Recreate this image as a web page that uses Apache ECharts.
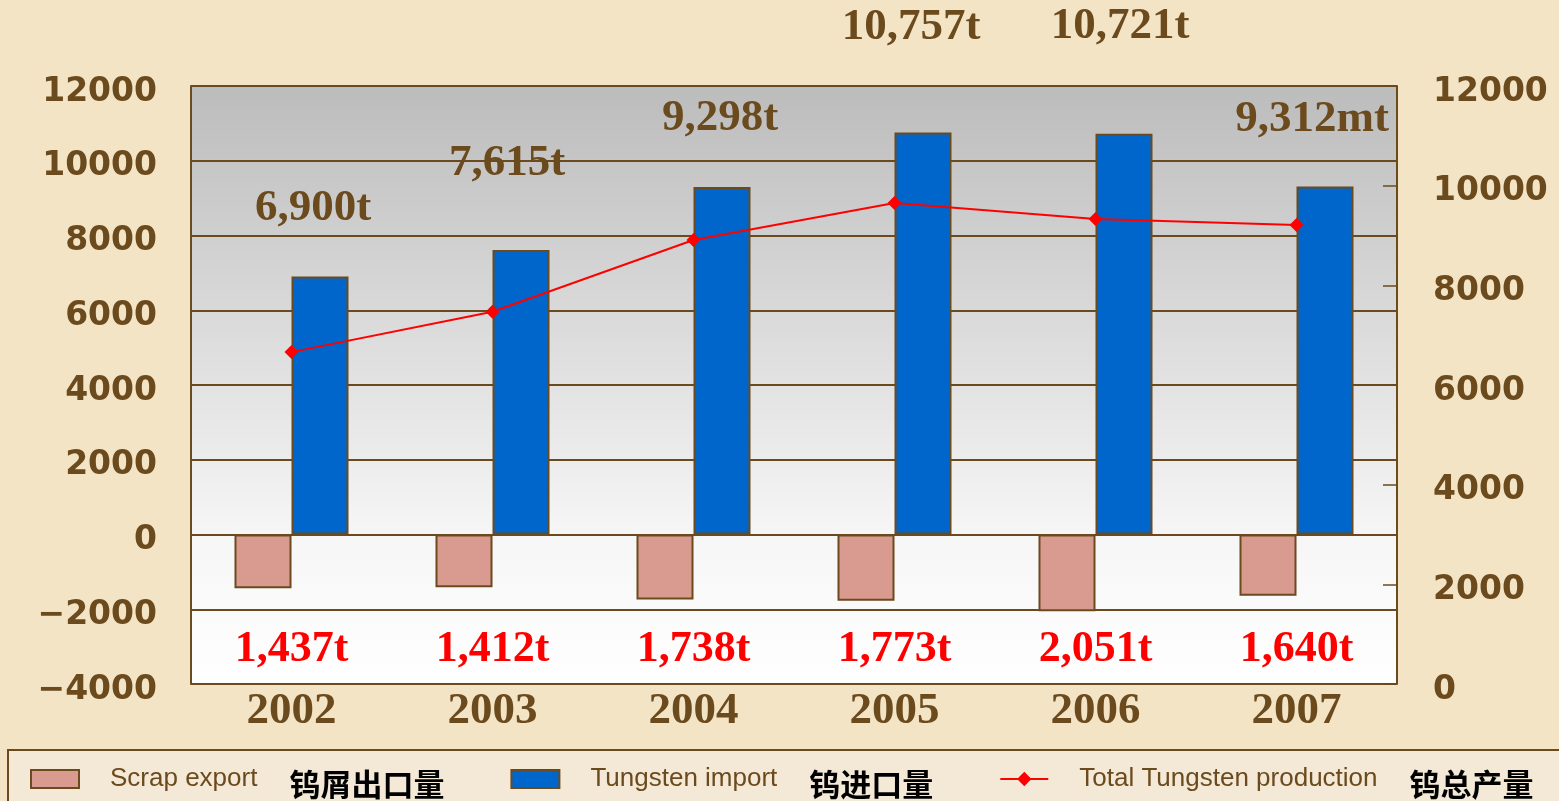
<!DOCTYPE html>
<html>
<head>
<meta charset="utf-8">
<script src="https://cdn.jsdelivr.net/npm/echarts@6/dist/echarts.min.js"></script>
<style>
html, body { margin: 0; padding: 0; background: #f2e4c4; overflow: hidden; }
#main { width: 1559px; height: 801px; }
</style>
</head>
<body>
<div id="main"></div>
<script>
// data
var years = ['2002', '2003', '2004', '2005', '2006', '2007'];
var scrapExport = [-1437, -1412, -1738, -1773, -2051, -1640];
var tungstenImport = [6900, 7615, 9298, 10757, 10721, 9312];
var totalProduction = [6660, 7470, 8910, 9650, 9330, 9210];
var importLabels = ['6,900t', '7,615t', '9,298t', '10,757t', '10,721t', '9,312mt'];
var exportLabels = ['1,437t', '1,412t', '1,738t', '1,773t', '2,051t', '1,640t'];
var leftTicks = { min: -4000, max: 12000, interval: 2000 };
var rightTicks = { min: 0, max: 12000, interval: 2000 };
var enNames = ['Scrap export', 'Tungsten import', 'Total Tungsten production'];
var cnNames = ['钨屑出口量', '钨进口量', '钨总产量'];

// label shifts (layout only)
var importLabelShift = [[-7, -41], [-14, -59], [-2, -41], [-12, -78], [-4, -80], [-13, -40]];

var brown = '#6b4a1e';
var serif = '"Liberation Serif", "Times New Roman", serif';
var sans = '"DejaVu Sans", sans-serif';

var chartDom = document.getElementById('main');
var myChart = echarts.init(chartDom);

var names = enNames.map(function (n, i) { return n + '|' + cnNames[i]; });

function tickText(v) {
    return '{t|' + (v < 0 ? '\u2212' + Math.abs(v) : String(v)) + '}';
}
var tickRich = { t: { fontFamily: sans, fontWeight: 'bold', fontSize: 33, color: brown, padding: [12, 0, 0, 0] } };

var option = {
    backgroundColor: '#f2e4c4',
    animation: false,
    graphic: [{
        type: 'rect',
        shape: { x: 8, y: 750, width: 1560, height: 60 },
        style: { fill: '#f4e9d6', stroke: brown, lineWidth: 2 },
        z: 0
    }],
    grid: {
        left: 191, right: 162, top: 86, bottom: 117,
        show: true,
        borderWidth: 0,
        backgroundColor: new echarts.graphic.LinearGradient(0, 0, 0, 1, [
            { offset: 0, color: '#bcbcbc' },
            { offset: 0.75, color: '#f6f6f6' },
            { offset: 1, color: '#ffffff' }
        ])
    },
    legend: {
        left: 30, top: 766, width: 1529,
        padding: 0,
        itemWidth: 48, itemHeight: 18, itemGap: 66,
        data: [
            { name: names[0], icon: 'rect' },
            { name: names[1], icon: 'rect' },
            { name: names[2] }
        ],
        formatter: function (name) {
            var p = name.split('|');
            return '{en|' + p[0] + '}{cn|' + p[1] + '}';
        },
        textStyle: {
            rich: {
                en: { fontFamily: '"Liberation Sans Narrow", "Liberation Sans", sans-serif', fontSize: 26, color: brown, padding: [0, 0, 0, 26] },
                cn: { fontFamily: '"Noto Sans CJK SC", sans-serif', fontSize: 31, fontWeight: 'bold', color: '#000', padding: [10, 0, 0, 32] }
            }
        }
    },
    xAxis: [{
        type: 'category',
        data: years,
        axisLine: { onZero: true, lineStyle: { color: brown, width: 2 } },
        axisTick: { inside: true, length: 14, lineStyle: { color: brown, width: 1.5 } },
        axisLabel: { show: false }
    }, {
        type: 'category',
        data: exportLabels,
        position: 'bottom',
        axisLine: { show: false, onZero: false },
        axisTick: { show: false },
        axisLabel: { inside: true, margin: 12, color: '#ff0000', fontFamily: serif, fontWeight: 'bold', fontSize: 44 }
    }, {
        type: 'category',
        data: years,
        position: 'bottom',
        axisLine: { show: false, onZero: false },
        axisTick: { show: false },
        axisLabel: { margin: 5, color: brown, fontFamily: serif, fontWeight: 'bold', fontSize: 45 }
    }],
    yAxis: [{
        type: 'value',
        min: leftTicks.min, max: leftTicks.max, interval: leftTicks.interval,
        axisLine: { show: true, onZero: false, lineStyle: { color: brown, width: 2 } },
        axisTick: { show: false },
        splitLine: { lineStyle: { color: brown, width: 2 } },
        axisLabel: { margin: 34, formatter: tickText, rich: tickRich }
    }, {
        type: 'value',
        position: 'right',
        min: rightTicks.min, max: rightTicks.max, interval: rightTicks.interval,
        axisLine: { show: true, onZero: false, lineStyle: { color: brown, width: 2 } },
        axisTick: { show: true, inside: true, length: 14, lineStyle: { color: brown, width: 1.5 } },
        splitLine: { show: false },
        axisLabel: { margin: 36, formatter: tickText, rich: tickRich }
    }],
    series: [{
        name: names[0],
        type: 'bar',
        barWidth: 57,
        barGap: '0%',
        data: scrapExport,
        itemStyle: { color: '#d99a8f', borderColor: brown, borderWidth: 2 }
    }, {
        name: names[1],
        type: 'bar',
        barWidth: 57,
        barGap: '0%',
        data: tungstenImport.map(function (v, i) {
            return {
                value: v,
                label: { offset: importLabelShift[i] }
            };
        }),
        itemStyle: { color: '#0066cc', borderColor: brown, borderWidth: 2 },
        label: {
            show: true,
            position: 'top',
            distance: 5,
            color: brown,
            fontFamily: serif,
            fontWeight: 'bold',
            fontSize: 45,
            formatter: function (p) { return importLabels[p.dataIndex]; }
        }
    }, {
        name: names[2],
        type: 'line',
        yAxisIndex: 1,
        data: totalProduction,
        symbol: 'diamond',
        symbolSize: 14,
        lineStyle: { color: '#ff0000', width: 2 },
        itemStyle: { color: '#ff0000' },
        z: 5
    }]
};

myChart.setOption(option);
window.onresize = function () {
    myChart.resize();
};
</script>
</body>
</html>
